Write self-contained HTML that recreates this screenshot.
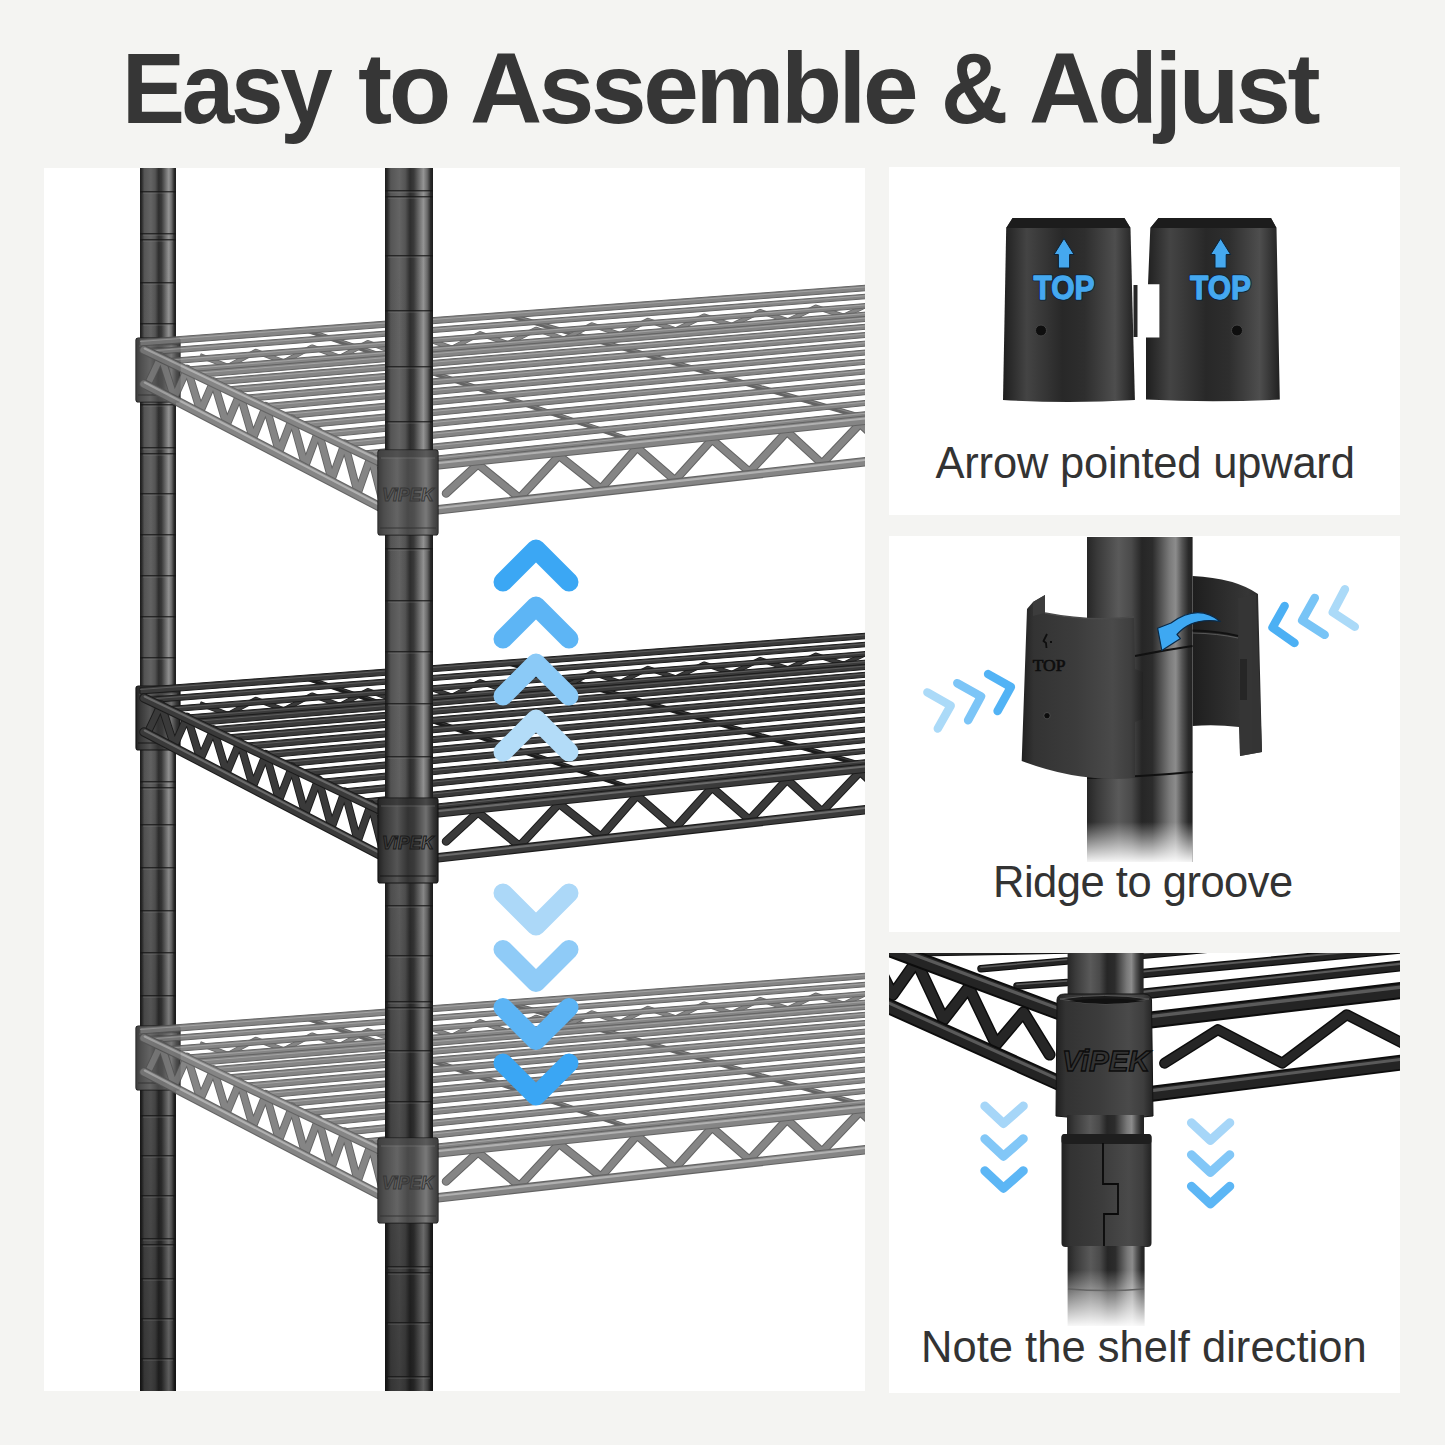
<!DOCTYPE html><html><head><meta charset="utf-8"><title>Easy to Assemble &amp; Adjust</title><style>
*{margin:0;padding:0;box-sizing:border-box}
html,body{width:1445px;height:1445px;overflow:hidden;background:#f4f4f2}
body{position:relative;font-family:"Liberation Sans",sans-serif}
.panel{position:absolute;background:#fff}
.title{position:absolute;left:0;top:0;width:1445px;white-space:nowrap;color:#363636;font-weight:bold}
.cap{position:absolute;white-space:nowrap;color:#333;font-size:43.5px}
</style></head><body>
<div class="panel" style="left:44px;top:168px;width:821px;height:1223px"></div>
<div class="panel" style="left:889px;top:167px;width:511px;height:348px"></div>
<div class="panel" style="left:889px;top:536px;width:511px;height:396px"></div>
<div class="panel" style="left:889px;top:953px;width:511px;height:440px"></div>
<svg width="1445" height="1445" viewBox="0 0 1445 1445" style="position:absolute;left:0;top:0"><defs>
<clipPath id="cpL"><rect x="44" y="168" width="821" height="1223"/></clipPath>
<linearGradient id="gPole" x1="0" x2="1" y1="0" y2="0">
<stop offset="0" stop-color="#1c1c1c"/><stop offset="0.05" stop-color="#2c2c2c"/><stop offset="0.12" stop-color="#555"/><stop offset="0.3" stop-color="#646464"/>
<stop offset="0.42" stop-color="#555"/><stop offset="0.52" stop-color="#2e2e2e"/><stop offset="0.6" stop-color="#3a3a3a"/><stop offset="0.8" stop-color="#959595"/>
<stop offset="0.88" stop-color="#6a6a6a"/><stop offset="0.95" stop-color="#2a2a2a"/><stop offset="1" stop-color="#1c1c1c"/>
</linearGradient>
<linearGradient id="gPoleShade" gradientUnits="userSpaceOnUse" x1="0" y1="168" x2="0" y2="1391">
<stop offset="0" stop-color="#000" stop-opacity="0"/><stop offset="0.5" stop-color="#000" stop-opacity="0.03"/><stop offset="1" stop-color="#000" stop-opacity="0.38"/>
</linearGradient>
<linearGradient id="gSlvP" x1="0" x2="1" y1="0" y2="0">
<stop offset="0" stop-color="#222"/><stop offset="0.1" stop-color="#383838"/><stop offset="0.32" stop-color="#555"/>
<stop offset="0.5" stop-color="#333"/><stop offset="0.6" stop-color="#3a3a3a"/><stop offset="0.8" stop-color="#707070"/><stop offset="0.92" stop-color="#383838"/><stop offset="1" stop-color="#202020"/>
</linearGradient>
<linearGradient id="gSlv" x1="0" x2="1" y1="0" y2="0">
<stop offset="0" stop-color="#202020"/><stop offset="0.25" stop-color="#3e3e3e"/><stop offset="0.5" stop-color="#2a2a2a"/><stop offset="0.8" stop-color="#454545"/><stop offset="1" stop-color="#1e1e1e"/>
</linearGradient>
<linearGradient id="gSlvG" x1="0" x2="1" y1="0" y2="0">
<stop offset="0" stop-color="#3c3c3c"/><stop offset="0.25" stop-color="#5a5a5a"/><stop offset="0.5" stop-color="#474747"/><stop offset="0.8" stop-color="#5e5e5e"/><stop offset="1" stop-color="#383838"/>
</linearGradient>
</defs><g clip-path="url(#cpL)"><rect x="140" y="160" width="36" height="1240" fill="url(#gPole)"/><rect x="140" y="160" width="36" height="1240" fill="url(#gPoleShade)"/><rect x="140" y="191" width="36" height="1.5" fill="#151515" opacity="0.75"/><rect x="143" y="192.5" width="30" height="1.2" fill="#888" opacity="0.3"/><rect x="140" y="233" width="36" height="1.5" fill="#151515" opacity="0.75"/><rect x="143" y="234.5" width="30" height="1.2" fill="#888" opacity="0.3"/><rect x="140" y="239" width="36" height="1.5" fill="#151515" opacity="0.75"/><rect x="143" y="240.5" width="30" height="1.2" fill="#888" opacity="0.3"/><rect x="140" y="282" width="36" height="1.5" fill="#151515" opacity="0.75"/><rect x="143" y="283.5" width="30" height="1.2" fill="#888" opacity="0.3"/><rect x="140" y="323" width="36" height="1.5" fill="#151515" opacity="0.75"/><rect x="143" y="324.5" width="30" height="1.2" fill="#888" opacity="0.3"/><rect x="140" y="404" width="36" height="1.5" fill="#151515" opacity="0.75"/><rect x="143" y="405.5" width="30" height="1.2" fill="#888" opacity="0.3"/><rect x="140" y="447" width="36" height="1.5" fill="#151515" opacity="0.75"/><rect x="143" y="448.5" width="30" height="1.2" fill="#888" opacity="0.3"/><rect x="140" y="453" width="36" height="1.5" fill="#151515" opacity="0.75"/><rect x="143" y="454.5" width="30" height="1.2" fill="#888" opacity="0.3"/><rect x="140" y="493" width="36" height="1.5" fill="#151515" opacity="0.75"/><rect x="143" y="494.5" width="30" height="1.2" fill="#888" opacity="0.3"/><rect x="140" y="534" width="36" height="1.5" fill="#151515" opacity="0.75"/><rect x="143" y="535.5" width="30" height="1.2" fill="#888" opacity="0.3"/><rect x="140" y="575" width="36" height="1.5" fill="#151515" opacity="0.75"/><rect x="143" y="576.5" width="30" height="1.2" fill="#888" opacity="0.3"/><rect x="140" y="616" width="36" height="1.5" fill="#151515" opacity="0.75"/><rect x="143" y="617.5" width="30" height="1.2" fill="#888" opacity="0.3"/><rect x="140" y="657" width="36" height="1.5" fill="#151515" opacity="0.75"/><rect x="143" y="658.5" width="30" height="1.2" fill="#888" opacity="0.3"/><rect x="140" y="781" width="36" height="1.5" fill="#151515" opacity="0.75"/><rect x="143" y="782.5" width="30" height="1.2" fill="#888" opacity="0.3"/><rect x="140" y="787" width="36" height="1.5" fill="#151515" opacity="0.75"/><rect x="143" y="788.5" width="30" height="1.2" fill="#888" opacity="0.3"/><rect x="140" y="824" width="36" height="1.5" fill="#151515" opacity="0.75"/><rect x="143" y="825.5" width="30" height="1.2" fill="#888" opacity="0.3"/><rect x="140" y="867" width="36" height="1.5" fill="#151515" opacity="0.75"/><rect x="143" y="868.5" width="30" height="1.2" fill="#888" opacity="0.3"/><rect x="140" y="910" width="36" height="1.5" fill="#151515" opacity="0.75"/><rect x="143" y="911.5" width="30" height="1.2" fill="#888" opacity="0.3"/><rect x="140" y="952" width="36" height="1.5" fill="#151515" opacity="0.75"/><rect x="143" y="953.5" width="30" height="1.2" fill="#888" opacity="0.3"/><rect x="140" y="995" width="36" height="1.5" fill="#151515" opacity="0.75"/><rect x="143" y="996.5" width="30" height="1.2" fill="#888" opacity="0.3"/><rect x="140" y="1115" width="36" height="1.5" fill="#151515" opacity="0.75"/><rect x="143" y="1116.5" width="30" height="1.2" fill="#888" opacity="0.3"/><rect x="140" y="1155" width="36" height="1.5" fill="#151515" opacity="0.75"/><rect x="143" y="1156.5" width="30" height="1.2" fill="#888" opacity="0.3"/><rect x="140" y="1195" width="36" height="1.5" fill="#151515" opacity="0.75"/><rect x="143" y="1196.5" width="30" height="1.2" fill="#888" opacity="0.3"/><rect x="140" y="1238" width="36" height="1.5" fill="#151515" opacity="0.75"/><rect x="143" y="1239.5" width="30" height="1.2" fill="#888" opacity="0.3"/><rect x="140" y="1244" width="36" height="1.5" fill="#151515" opacity="0.75"/><rect x="143" y="1245.5" width="30" height="1.2" fill="#888" opacity="0.3"/><rect x="140" y="1278" width="36" height="1.5" fill="#151515" opacity="0.75"/><rect x="143" y="1279.5" width="30" height="1.2" fill="#888" opacity="0.3"/><rect x="140" y="1318" width="36" height="1.5" fill="#151515" opacity="0.75"/><rect x="143" y="1319.5" width="30" height="1.2" fill="#888" opacity="0.3"/><rect x="140" y="1358" width="36" height="1.5" fill="#151515" opacity="0.75"/><rect x="143" y="1359.5" width="30" height="1.2" fill="#888" opacity="0.3"/><g><rect x="136" y="338" width="44" height="64" rx="2.5" fill="url(#gSlvP)" stroke="#161616" stroke-width="1.2"/><rect x="136.6" y="338.6" width="42.8" height="7" rx="2" fill="#2a2a2a" opacity="0.55"/><line x1="139" y1="346" x2="177" y2="346" stroke="#777" stroke-width="1" opacity="0.5"/><line x1="138" y1="395" x2="178" y2="395" stroke="#151515" stroke-width="1.4" opacity="0.6"/><rect x="136" y="338" width="44" height="64" rx="2.5" fill="#9a9a9a" opacity="0.22"/></g><g opacity="0.9"><line x1="306" y1="330" x2="643" y2="444" stroke="#545454" stroke-width="5" stroke-linecap="round"/><line x1="306" y1="330" x2="643" y2="444" stroke="#545454" stroke-width="3.9" stroke-linecap="round"/><line x1="306.3" y1="329.1" x2="643.3" y2="443.1" stroke="#787878" stroke-width="1.1" stroke-linecap="round"/><line x1="508" y1="315" x2="870" y2="419" stroke="#545454" stroke-width="5" stroke-linecap="round"/><line x1="508" y1="315" x2="870" y2="419" stroke="#545454" stroke-width="3.9" stroke-linecap="round"/><line x1="508.2" y1="314.1" x2="870.2" y2="418.1" stroke="#787878" stroke-width="1.1" stroke-linecap="round"/><polyline points="200,355.7 228,366.4 256,351.3 284,361.8 312,346.9 340,357.3 368,342.5 396,352.7 424,338 452,348.1 480,333.6 508,343.6 536,329.2 564,339 592,324.8 620,334.4 648,320.3 676,329.8 704,315.9 732,325.3 760,311.5 788,320.7 816,307.1 844,316.1 872,302.6 900,311.6" fill="none" stroke="#545454" stroke-width="5" stroke-linejoin="round"/><polyline points="200,355.7 228,366.4 256,351.3 284,361.8 312,346.9 340,357.3 368,342.5 396,352.7 424,338 452,348.1 480,333.6 508,343.6 536,329.2 564,339 592,324.8 620,334.4 648,320.3 676,329.8 704,315.9 732,325.3 760,311.5 788,320.7 816,307.1 844,316.1 872,302.6 900,311.6" fill="none" stroke="#787878" stroke-width="3.6" stroke-linejoin="round"/><polygon points="140,339.5 870,284.9 870,290.4 140,346" fill="#787878" stroke="#545454" stroke-width="1"/><line x1="140" y1="341.5" x2="870" y2="286.6" stroke="#a8a8a8" stroke-width="1" opacity="0.7"/><polygon points="148.4,349.3 870,293.9 870,298.4 148.4,354.8" fill="#787878" stroke="#545454" stroke-width="1"/><line x1="148.4" y1="351.1" x2="870" y2="295.4" stroke="#a8a8a8" stroke-width="1" opacity="0.7"/><polygon points="167.9,358.6 870,303.2 870,307.7 167.9,364.1" fill="#787878" stroke="#545454" stroke-width="1"/><line x1="167.9" y1="360.3" x2="870" y2="304.6" stroke="#a8a8a8" stroke-width="1" opacity="0.7"/><polygon points="185.8,367.1 870,311.8 870,316.3 185.8,372.6" fill="#787878" stroke="#545454" stroke-width="1"/><line x1="185.8" y1="368.9" x2="870" y2="313.2" stroke="#a8a8a8" stroke-width="1" opacity="0.7"/><polygon points="195.4,371.2 870,316.1 870,321.1 195.4,377.6" fill="#787878" stroke="#545454" stroke-width="1"/><line x1="195.4" y1="373.3" x2="870" y2="317.7" stroke="#a8a8a8" stroke-width="1" opacity="0.7"/><polygon points="211.5,378.9 870,323.9 870,328.9 211.5,385.3" fill="#787878" stroke="#545454" stroke-width="1"/><line x1="211.5" y1="380.9" x2="870" y2="325.5" stroke="#a8a8a8" stroke-width="1" opacity="0.7"/><polygon points="228.3,386.8 870,332.1 870,337.1 228.3,393.2" fill="#787878" stroke="#545454" stroke-width="1"/><line x1="228.3" y1="388.9" x2="870" y2="333.7" stroke="#a8a8a8" stroke-width="1" opacity="0.7"/><polygon points="245.8,395.1 870,340.7 870,345.7 245.8,401.5" fill="#787878" stroke="#545454" stroke-width="1"/><line x1="245.8" y1="397.2" x2="870" y2="342.3" stroke="#a8a8a8" stroke-width="1" opacity="0.7"/><polygon points="263.9,403.7 870,349.6 870,354.6 263.9,410.1" fill="#787878" stroke="#545454" stroke-width="1"/><line x1="263.9" y1="405.8" x2="870" y2="351.2" stroke="#a8a8a8" stroke-width="1" opacity="0.7"/><polygon points="282.6,412.6 870,358.9 870,363.9 282.6,419" fill="#787878" stroke="#545454" stroke-width="1"/><line x1="282.6" y1="414.6" x2="870" y2="360.5" stroke="#a8a8a8" stroke-width="1" opacity="0.7"/><polygon points="302,421.8 870,368.6 870,373.6 302,428.2" fill="#787878" stroke="#545454" stroke-width="1"/><line x1="302" y1="423.8" x2="870" y2="370.2" stroke="#a8a8a8" stroke-width="1" opacity="0.7"/><polygon points="321.9,431.2 870,378.7 870,383.7 321.9,437.6" fill="#787878" stroke="#545454" stroke-width="1"/><line x1="321.9" y1="433.3" x2="870" y2="380.3" stroke="#a8a8a8" stroke-width="1" opacity="0.7"/><polygon points="342.5,441 870,389.2 870,394.2 342.5,447.4" fill="#787878" stroke="#545454" stroke-width="1"/><line x1="342.5" y1="443" x2="870" y2="390.8" stroke="#a8a8a8" stroke-width="1" opacity="0.7"/><polygon points="363.5,451 870,400 870,405 363.5,457.4" fill="#787878" stroke="#545454" stroke-width="1"/><line x1="363.5" y1="453" x2="870" y2="401.6" stroke="#a8a8a8" stroke-width="1" opacity="0.7"/><polygon points="385.2,461.3 870,411.2 870,416.2 385.2,467.7" fill="#787878" stroke="#545454" stroke-width="1"/><line x1="385.2" y1="463.3" x2="870" y2="412.8" stroke="#a8a8a8" stroke-width="1" opacity="0.7"/><polyline points="148,384 161.1,356.2 174.2,397.7 187.3,368.7 200.4,411.3 213.6,381.1 226.7,425 239.8,393.6 252.9,438.7 266,406 279.1,452.3 292.2,418.4 305.3,466 318.4,430.9 331.6,479.7 344.7,443.3 357.8,493.3 370.9,455.8 384,507" fill="none" stroke="#545454" stroke-width="8" stroke-linejoin="round"/><polyline points="148,384 161.1,356.2 174.2,397.7 187.3,368.7 200.4,411.3 213.6,381.1 226.7,425 239.8,393.6 252.9,438.7 266,406 279.1,452.3 292.2,418.4 305.3,466 318.4,430.9 331.6,479.7 344.7,443.3 357.8,493.3 370.9,455.8 384,507" fill="none" stroke="#787878" stroke-width="6.2" stroke-linejoin="round"/><line x1="144" y1="350" x2="380" y2="462" stroke="#545454" stroke-width="9.5" stroke-linecap="round"/><line x1="144" y1="350" x2="380" y2="462" stroke="#787878" stroke-width="7.4" stroke-linecap="round"/><line x1="144.7" y1="348.5" x2="380.7" y2="460.5" stroke="#a8a8a8" stroke-width="2.1" stroke-linecap="round"/><line x1="144" y1="384" x2="380" y2="507" stroke="#545454" stroke-width="9.5" stroke-linecap="round"/><line x1="144" y1="384" x2="380" y2="507" stroke="#787878" stroke-width="7.4" stroke-linecap="round"/><line x1="144.8" y1="382.5" x2="380.8" y2="505.5" stroke="#a8a8a8" stroke-width="2.1" stroke-linecap="round"/><polyline points="446,493.5 478,464.2 519.5,498.1 559,455.6 601,488.8 637,447.4 675,480.4 712,439.4 749.5,471.9 787,431.5 822,463.7 860,423.7 895,455.3 933,416" fill="none" stroke="#545454" stroke-width="8.5" stroke-linejoin="round" stroke-linecap="round"/><polyline points="446,493.5 478,464.2 519.5,498.1 559,455.6 601,488.8 637,447.4 675,480.4 712,439.4 749.5,471.9 787,431.5 822,463.7 860,423.7 895,455.3 933,416" fill="none" stroke="#787878" stroke-width="6.5" stroke-linejoin="round" stroke-linecap="round"/><line x1="427" y1="466" x2="870" y2="419.7" stroke="#545454" stroke-width="9.5" stroke-linecap="round"/><line x1="427" y1="466" x2="870" y2="419.7" stroke="#787878" stroke-width="7.4" stroke-linecap="round"/><line x1="426.8" y1="464.3" x2="869.8" y2="418" stroke="#a8a8a8" stroke-width="2.1" stroke-linecap="round"/><line x1="427" y1="511" x2="870" y2="461.2" stroke="#545454" stroke-width="9.5" stroke-linecap="round"/><line x1="427" y1="511" x2="870" y2="461.2" stroke="#787878" stroke-width="7.4" stroke-linecap="round"/><line x1="426.8" y1="509.3" x2="869.8" y2="459.5" stroke="#a8a8a8" stroke-width="2.1" stroke-linecap="round"/></g><g><rect x="136" y="686" width="44" height="64" rx="2.5" fill="url(#gSlvP)" stroke="#161616" stroke-width="1.2"/><rect x="136.6" y="686.6" width="42.8" height="7" rx="2" fill="#2a2a2a" opacity="0.55"/><line x1="139" y1="694" x2="177" y2="694" stroke="#777" stroke-width="1" opacity="0.5"/><line x1="138" y1="743" x2="178" y2="743" stroke="#151515" stroke-width="1.4" opacity="0.6"/></g><g><line x1="306" y1="678" x2="643" y2="792" stroke="#1c1c1c" stroke-width="5" stroke-linecap="round"/><line x1="306" y1="678" x2="643" y2="792" stroke="#1c1c1c" stroke-width="3.9" stroke-linecap="round"/><line x1="306.3" y1="677.1" x2="643.3" y2="791.1" stroke="#3a3a3a" stroke-width="1.1" stroke-linecap="round"/><line x1="508" y1="663" x2="870" y2="767" stroke="#1c1c1c" stroke-width="5" stroke-linecap="round"/><line x1="508" y1="663" x2="870" y2="767" stroke="#1c1c1c" stroke-width="3.9" stroke-linecap="round"/><line x1="508.2" y1="662.1" x2="870.2" y2="766.1" stroke="#3a3a3a" stroke-width="1.1" stroke-linecap="round"/><polyline points="200,703.7 228,714.4 256,699.3 284,709.8 312,694.9 340,705.3 368,690.5 396,700.7 424,686 452,696.1 480,681.6 508,691.6 536,677.2 564,687 592,672.8 620,682.4 648,668.3 676,677.8 704,663.9 732,673.3 760,659.5 788,668.7 816,655.1 844,664.1 872,650.6 900,659.6" fill="none" stroke="#1c1c1c" stroke-width="5" stroke-linejoin="round"/><polyline points="200,703.7 228,714.4 256,699.3 284,709.8 312,694.9 340,705.3 368,690.5 396,700.7 424,686 452,696.1 480,681.6 508,691.6 536,677.2 564,687 592,672.8 620,682.4 648,668.3 676,677.8 704,663.9 732,673.3 760,659.5 788,668.7 816,655.1 844,664.1 872,650.6 900,659.6" fill="none" stroke="#3a3a3a" stroke-width="3.6" stroke-linejoin="round"/><polygon points="140,687.5 870,632.9 870,638.4 140,694" fill="#3a3a3a" stroke="#1c1c1c" stroke-width="1"/><line x1="140" y1="689.5" x2="870" y2="634.6" stroke="#6a6a6a" stroke-width="1" opacity="0.7"/><polygon points="148.4,697.3 870,641.9 870,646.4 148.4,702.8" fill="#3a3a3a" stroke="#1c1c1c" stroke-width="1"/><line x1="148.4" y1="699.1" x2="870" y2="643.4" stroke="#6a6a6a" stroke-width="1" opacity="0.7"/><polygon points="167.9,706.6 870,651.2 870,655.7 167.9,712.1" fill="#3a3a3a" stroke="#1c1c1c" stroke-width="1"/><line x1="167.9" y1="708.3" x2="870" y2="652.6" stroke="#6a6a6a" stroke-width="1" opacity="0.7"/><polygon points="185.8,715.1 870,659.8 870,664.3 185.8,720.6" fill="#3a3a3a" stroke="#1c1c1c" stroke-width="1"/><line x1="185.8" y1="716.9" x2="870" y2="661.2" stroke="#6a6a6a" stroke-width="1" opacity="0.7"/><polygon points="195.4,719.2 870,664.1 870,669.1 195.4,725.6" fill="#3a3a3a" stroke="#1c1c1c" stroke-width="1"/><line x1="195.4" y1="721.3" x2="870" y2="665.7" stroke="#6a6a6a" stroke-width="1" opacity="0.7"/><polygon points="211.5,726.9 870,671.9 870,676.9 211.5,733.3" fill="#3a3a3a" stroke="#1c1c1c" stroke-width="1"/><line x1="211.5" y1="728.9" x2="870" y2="673.5" stroke="#6a6a6a" stroke-width="1" opacity="0.7"/><polygon points="228.3,734.8 870,680.1 870,685.1 228.3,741.2" fill="#3a3a3a" stroke="#1c1c1c" stroke-width="1"/><line x1="228.3" y1="736.9" x2="870" y2="681.7" stroke="#6a6a6a" stroke-width="1" opacity="0.7"/><polygon points="245.8,743.1 870,688.7 870,693.7 245.8,749.5" fill="#3a3a3a" stroke="#1c1c1c" stroke-width="1"/><line x1="245.8" y1="745.2" x2="870" y2="690.3" stroke="#6a6a6a" stroke-width="1" opacity="0.7"/><polygon points="263.9,751.7 870,697.6 870,702.6 263.9,758.1" fill="#3a3a3a" stroke="#1c1c1c" stroke-width="1"/><line x1="263.9" y1="753.8" x2="870" y2="699.2" stroke="#6a6a6a" stroke-width="1" opacity="0.7"/><polygon points="282.6,760.6 870,706.9 870,711.9 282.6,767" fill="#3a3a3a" stroke="#1c1c1c" stroke-width="1"/><line x1="282.6" y1="762.6" x2="870" y2="708.5" stroke="#6a6a6a" stroke-width="1" opacity="0.7"/><polygon points="302,769.8 870,716.6 870,721.6 302,776.2" fill="#3a3a3a" stroke="#1c1c1c" stroke-width="1"/><line x1="302" y1="771.8" x2="870" y2="718.2" stroke="#6a6a6a" stroke-width="1" opacity="0.7"/><polygon points="321.9,779.2 870,726.7 870,731.7 321.9,785.6" fill="#3a3a3a" stroke="#1c1c1c" stroke-width="1"/><line x1="321.9" y1="781.3" x2="870" y2="728.3" stroke="#6a6a6a" stroke-width="1" opacity="0.7"/><polygon points="342.5,789 870,737.2 870,742.2 342.5,795.4" fill="#3a3a3a" stroke="#1c1c1c" stroke-width="1"/><line x1="342.5" y1="791" x2="870" y2="738.8" stroke="#6a6a6a" stroke-width="1" opacity="0.7"/><polygon points="363.5,799 870,748 870,753 363.5,805.4" fill="#3a3a3a" stroke="#1c1c1c" stroke-width="1"/><line x1="363.5" y1="801" x2="870" y2="749.6" stroke="#6a6a6a" stroke-width="1" opacity="0.7"/><polygon points="385.2,809.3 870,759.2 870,764.2 385.2,815.7" fill="#3a3a3a" stroke="#1c1c1c" stroke-width="1"/><line x1="385.2" y1="811.3" x2="870" y2="760.8" stroke="#6a6a6a" stroke-width="1" opacity="0.7"/><polyline points="148,732 161.1,704.2 174.2,745.7 187.3,716.7 200.4,759.3 213.6,729.1 226.7,773 239.8,741.6 252.9,786.7 266,754 279.1,800.3 292.2,766.4 305.3,814 318.4,778.9 331.6,827.7 344.7,791.3 357.8,841.3 370.9,803.8 384,855" fill="none" stroke="#1c1c1c" stroke-width="8" stroke-linejoin="round"/><polyline points="148,732 161.1,704.2 174.2,745.7 187.3,716.7 200.4,759.3 213.6,729.1 226.7,773 239.8,741.6 252.9,786.7 266,754 279.1,800.3 292.2,766.4 305.3,814 318.4,778.9 331.6,827.7 344.7,791.3 357.8,841.3 370.9,803.8 384,855" fill="none" stroke="#3a3a3a" stroke-width="6.2" stroke-linejoin="round"/><line x1="144" y1="698" x2="380" y2="810" stroke="#1c1c1c" stroke-width="9.5" stroke-linecap="round"/><line x1="144" y1="698" x2="380" y2="810" stroke="#3a3a3a" stroke-width="7.4" stroke-linecap="round"/><line x1="144.7" y1="696.5" x2="380.7" y2="808.5" stroke="#6a6a6a" stroke-width="2.1" stroke-linecap="round"/><line x1="144" y1="732" x2="380" y2="855" stroke="#1c1c1c" stroke-width="9.5" stroke-linecap="round"/><line x1="144" y1="732" x2="380" y2="855" stroke="#3a3a3a" stroke-width="7.4" stroke-linecap="round"/><line x1="144.8" y1="730.5" x2="380.8" y2="853.5" stroke="#6a6a6a" stroke-width="2.1" stroke-linecap="round"/><polyline points="446,841.5 478,812.2 519.5,846.1 559,803.6 601,836.8 637,795.4 675,828.4 712,787.4 749.5,819.9 787,779.5 822,811.7 860,771.7 895,803.3 933,764" fill="none" stroke="#1c1c1c" stroke-width="8.5" stroke-linejoin="round" stroke-linecap="round"/><polyline points="446,841.5 478,812.2 519.5,846.1 559,803.6 601,836.8 637,795.4 675,828.4 712,787.4 749.5,819.9 787,779.5 822,811.7 860,771.7 895,803.3 933,764" fill="none" stroke="#3a3a3a" stroke-width="6.5" stroke-linejoin="round" stroke-linecap="round"/><line x1="427" y1="814" x2="870" y2="767.7" stroke="#1c1c1c" stroke-width="9.5" stroke-linecap="round"/><line x1="427" y1="814" x2="870" y2="767.7" stroke="#3a3a3a" stroke-width="7.4" stroke-linecap="round"/><line x1="426.8" y1="812.3" x2="869.8" y2="766" stroke="#6a6a6a" stroke-width="2.1" stroke-linecap="round"/><line x1="427" y1="859" x2="870" y2="809.2" stroke="#1c1c1c" stroke-width="9.5" stroke-linecap="round"/><line x1="427" y1="859" x2="870" y2="809.2" stroke="#3a3a3a" stroke-width="7.4" stroke-linecap="round"/><line x1="426.8" y1="857.3" x2="869.8" y2="807.5" stroke="#6a6a6a" stroke-width="2.1" stroke-linecap="round"/></g><g><rect x="136" y="1026" width="44" height="64" rx="2.5" fill="url(#gSlvP)" stroke="#161616" stroke-width="1.2"/><rect x="136.6" y="1026.6" width="42.8" height="7" rx="2" fill="#2a2a2a" opacity="0.55"/><line x1="139" y1="1034" x2="177" y2="1034" stroke="#777" stroke-width="1" opacity="0.5"/><line x1="138" y1="1083" x2="178" y2="1083" stroke="#151515" stroke-width="1.4" opacity="0.6"/><rect x="136" y="1026" width="44" height="64" rx="2.5" fill="#9a9a9a" opacity="0.22"/></g><g opacity="0.9"><line x1="306" y1="1018" x2="643" y2="1132" stroke="#545454" stroke-width="5" stroke-linecap="round"/><line x1="306" y1="1018" x2="643" y2="1132" stroke="#545454" stroke-width="3.9" stroke-linecap="round"/><line x1="306.3" y1="1017.1" x2="643.3" y2="1131.1" stroke="#787878" stroke-width="1.1" stroke-linecap="round"/><line x1="508" y1="1003" x2="870" y2="1107" stroke="#545454" stroke-width="5" stroke-linecap="round"/><line x1="508" y1="1003" x2="870" y2="1107" stroke="#545454" stroke-width="3.9" stroke-linecap="round"/><line x1="508.2" y1="1002.1" x2="870.2" y2="1106.1" stroke="#787878" stroke-width="1.1" stroke-linecap="round"/><polyline points="200,1043.7 228,1054.4 256,1039.3 284,1049.8 312,1034.9 340,1045.3 368,1030.5 396,1040.7 424,1026 452,1036.1 480,1021.6 508,1031.6 536,1017.2 564,1027 592,1012.8 620,1022.4 648,1008.3 676,1017.8 704,1003.9 732,1013.3 760,999.5 788,1008.7 816,995.1 844,1004.1 872,990.6 900,999.6" fill="none" stroke="#545454" stroke-width="5" stroke-linejoin="round"/><polyline points="200,1043.7 228,1054.4 256,1039.3 284,1049.8 312,1034.9 340,1045.3 368,1030.5 396,1040.7 424,1026 452,1036.1 480,1021.6 508,1031.6 536,1017.2 564,1027 592,1012.8 620,1022.4 648,1008.3 676,1017.8 704,1003.9 732,1013.3 760,999.5 788,1008.7 816,995.1 844,1004.1 872,990.6 900,999.6" fill="none" stroke="#787878" stroke-width="3.6" stroke-linejoin="round"/><polygon points="140,1027.5 870,972.9 870,978.4 140,1034" fill="#787878" stroke="#545454" stroke-width="1"/><line x1="140" y1="1029.5" x2="870" y2="974.6" stroke="#a8a8a8" stroke-width="1" opacity="0.7"/><polygon points="148.4,1037.3 870,981.9 870,986.4 148.4,1042.8" fill="#787878" stroke="#545454" stroke-width="1"/><line x1="148.4" y1="1039.1" x2="870" y2="983.4" stroke="#a8a8a8" stroke-width="1" opacity="0.7"/><polygon points="167.9,1046.6 870,991.2 870,995.7 167.9,1052.1" fill="#787878" stroke="#545454" stroke-width="1"/><line x1="167.9" y1="1048.3" x2="870" y2="992.6" stroke="#a8a8a8" stroke-width="1" opacity="0.7"/><polygon points="185.8,1055.1 870,999.8 870,1004.3 185.8,1060.6" fill="#787878" stroke="#545454" stroke-width="1"/><line x1="185.8" y1="1056.9" x2="870" y2="1001.2" stroke="#a8a8a8" stroke-width="1" opacity="0.7"/><polygon points="195.4,1059.2 870,1004.1 870,1009.1 195.4,1065.6" fill="#787878" stroke="#545454" stroke-width="1"/><line x1="195.4" y1="1061.3" x2="870" y2="1005.7" stroke="#a8a8a8" stroke-width="1" opacity="0.7"/><polygon points="211.5,1066.9 870,1011.9 870,1016.9 211.5,1073.3" fill="#787878" stroke="#545454" stroke-width="1"/><line x1="211.5" y1="1068.9" x2="870" y2="1013.5" stroke="#a8a8a8" stroke-width="1" opacity="0.7"/><polygon points="228.3,1074.8 870,1020.1 870,1025.1 228.3,1081.2" fill="#787878" stroke="#545454" stroke-width="1"/><line x1="228.3" y1="1076.9" x2="870" y2="1021.7" stroke="#a8a8a8" stroke-width="1" opacity="0.7"/><polygon points="245.8,1083.1 870,1028.7 870,1033.7 245.8,1089.5" fill="#787878" stroke="#545454" stroke-width="1"/><line x1="245.8" y1="1085.2" x2="870" y2="1030.3" stroke="#a8a8a8" stroke-width="1" opacity="0.7"/><polygon points="263.9,1091.7 870,1037.6 870,1042.6 263.9,1098.1" fill="#787878" stroke="#545454" stroke-width="1"/><line x1="263.9" y1="1093.8" x2="870" y2="1039.2" stroke="#a8a8a8" stroke-width="1" opacity="0.7"/><polygon points="282.6,1100.6 870,1046.9 870,1051.9 282.6,1107" fill="#787878" stroke="#545454" stroke-width="1"/><line x1="282.6" y1="1102.6" x2="870" y2="1048.5" stroke="#a8a8a8" stroke-width="1" opacity="0.7"/><polygon points="302,1109.8 870,1056.6 870,1061.6 302,1116.2" fill="#787878" stroke="#545454" stroke-width="1"/><line x1="302" y1="1111.8" x2="870" y2="1058.2" stroke="#a8a8a8" stroke-width="1" opacity="0.7"/><polygon points="321.9,1119.2 870,1066.7 870,1071.7 321.9,1125.6" fill="#787878" stroke="#545454" stroke-width="1"/><line x1="321.9" y1="1121.3" x2="870" y2="1068.3" stroke="#a8a8a8" stroke-width="1" opacity="0.7"/><polygon points="342.5,1129 870,1077.2 870,1082.2 342.5,1135.4" fill="#787878" stroke="#545454" stroke-width="1"/><line x1="342.5" y1="1131" x2="870" y2="1078.8" stroke="#a8a8a8" stroke-width="1" opacity="0.7"/><polygon points="363.5,1139 870,1088 870,1093 363.5,1145.4" fill="#787878" stroke="#545454" stroke-width="1"/><line x1="363.5" y1="1141" x2="870" y2="1089.6" stroke="#a8a8a8" stroke-width="1" opacity="0.7"/><polygon points="385.2,1149.3 870,1099.2 870,1104.2 385.2,1155.7" fill="#787878" stroke="#545454" stroke-width="1"/><line x1="385.2" y1="1151.3" x2="870" y2="1100.8" stroke="#a8a8a8" stroke-width="1" opacity="0.7"/><polyline points="148,1072 161.1,1044.2 174.2,1085.7 187.3,1056.7 200.4,1099.3 213.6,1069.1 226.7,1113 239.8,1081.6 252.9,1126.7 266,1094 279.1,1140.3 292.2,1106.4 305.3,1154 318.4,1118.9 331.6,1167.7 344.7,1131.3 357.8,1181.3 370.9,1143.8 384,1195" fill="none" stroke="#545454" stroke-width="8" stroke-linejoin="round"/><polyline points="148,1072 161.1,1044.2 174.2,1085.7 187.3,1056.7 200.4,1099.3 213.6,1069.1 226.7,1113 239.8,1081.6 252.9,1126.7 266,1094 279.1,1140.3 292.2,1106.4 305.3,1154 318.4,1118.9 331.6,1167.7 344.7,1131.3 357.8,1181.3 370.9,1143.8 384,1195" fill="none" stroke="#787878" stroke-width="6.2" stroke-linejoin="round"/><line x1="144" y1="1038" x2="380" y2="1150" stroke="#545454" stroke-width="9.5" stroke-linecap="round"/><line x1="144" y1="1038" x2="380" y2="1150" stroke="#787878" stroke-width="7.4" stroke-linecap="round"/><line x1="144.7" y1="1036.5" x2="380.7" y2="1148.5" stroke="#a8a8a8" stroke-width="2.1" stroke-linecap="round"/><line x1="144" y1="1072" x2="380" y2="1195" stroke="#545454" stroke-width="9.5" stroke-linecap="round"/><line x1="144" y1="1072" x2="380" y2="1195" stroke="#787878" stroke-width="7.4" stroke-linecap="round"/><line x1="144.8" y1="1070.5" x2="380.8" y2="1193.5" stroke="#a8a8a8" stroke-width="2.1" stroke-linecap="round"/><polyline points="446,1181.5 478,1152.2 519.5,1186.1 559,1143.6 601,1176.8 637,1135.4 675,1168.4 712,1127.4 749.5,1159.9 787,1119.5 822,1151.7 860,1111.7 895,1143.3 933,1104" fill="none" stroke="#545454" stroke-width="8.5" stroke-linejoin="round" stroke-linecap="round"/><polyline points="446,1181.5 478,1152.2 519.5,1186.1 559,1143.6 601,1176.8 637,1135.4 675,1168.4 712,1127.4 749.5,1159.9 787,1119.5 822,1151.7 860,1111.7 895,1143.3 933,1104" fill="none" stroke="#787878" stroke-width="6.5" stroke-linejoin="round" stroke-linecap="round"/><line x1="427" y1="1154" x2="870" y2="1107.7" stroke="#545454" stroke-width="9.5" stroke-linecap="round"/><line x1="427" y1="1154" x2="870" y2="1107.7" stroke="#787878" stroke-width="7.4" stroke-linecap="round"/><line x1="426.8" y1="1152.3" x2="869.8" y2="1106" stroke="#a8a8a8" stroke-width="2.1" stroke-linecap="round"/><line x1="427" y1="1199" x2="870" y2="1149.2" stroke="#545454" stroke-width="9.5" stroke-linecap="round"/><line x1="427" y1="1199" x2="870" y2="1149.2" stroke="#787878" stroke-width="7.4" stroke-linecap="round"/><line x1="426.8" y1="1197.3" x2="869.8" y2="1147.5" stroke="#a8a8a8" stroke-width="2.1" stroke-linecap="round"/></g><rect x="385" y="160" width="48" height="1240" fill="url(#gPole)"/><rect x="385" y="160" width="48" height="1240" fill="url(#gPoleShade)"/><rect x="385" y="190" width="48" height="1.5" fill="#151515" opacity="0.75"/><rect x="388" y="191.5" width="42" height="1.2" fill="#888" opacity="0.3"/><rect x="385" y="196" width="48" height="1.5" fill="#151515" opacity="0.75"/><rect x="388" y="197.5" width="42" height="1.2" fill="#888" opacity="0.3"/><rect x="385" y="255" width="48" height="1.5" fill="#151515" opacity="0.75"/><rect x="388" y="256.5" width="42" height="1.2" fill="#888" opacity="0.3"/><rect x="385" y="310" width="48" height="1.5" fill="#151515" opacity="0.75"/><rect x="388" y="311.5" width="42" height="1.2" fill="#888" opacity="0.3"/><rect x="385" y="366" width="48" height="1.5" fill="#151515" opacity="0.75"/><rect x="388" y="367.5" width="42" height="1.2" fill="#888" opacity="0.3"/><rect x="385" y="421" width="48" height="1.5" fill="#151515" opacity="0.75"/><rect x="388" y="422.5" width="42" height="1.2" fill="#888" opacity="0.3"/><rect x="385" y="548" width="48" height="1.5" fill="#151515" opacity="0.75"/><rect x="388" y="549.5" width="42" height="1.2" fill="#888" opacity="0.3"/><rect x="385" y="600" width="48" height="1.5" fill="#151515" opacity="0.75"/><rect x="388" y="601.5" width="42" height="1.2" fill="#888" opacity="0.3"/><rect x="385" y="651" width="48" height="1.5" fill="#151515" opacity="0.75"/><rect x="388" y="652.5" width="42" height="1.2" fill="#888" opacity="0.3"/><rect x="385" y="703" width="48" height="1.5" fill="#151515" opacity="0.75"/><rect x="388" y="704.5" width="42" height="1.2" fill="#888" opacity="0.3"/><rect x="385" y="756" width="48" height="1.5" fill="#151515" opacity="0.75"/><rect x="388" y="757.5" width="42" height="1.2" fill="#888" opacity="0.3"/><rect x="385" y="905" width="48" height="1.5" fill="#151515" opacity="0.75"/><rect x="388" y="906.5" width="42" height="1.2" fill="#888" opacity="0.3"/><rect x="385" y="955" width="48" height="1.5" fill="#151515" opacity="0.75"/><rect x="388" y="956.5" width="42" height="1.2" fill="#888" opacity="0.3"/><rect x="385" y="1001" width="48" height="1.5" fill="#151515" opacity="0.75"/><rect x="388" y="1002.5" width="42" height="1.2" fill="#888" opacity="0.3"/><rect x="385" y="1007" width="48" height="1.5" fill="#151515" opacity="0.75"/><rect x="388" y="1008.5" width="42" height="1.2" fill="#888" opacity="0.3"/><rect x="385" y="1050" width="48" height="1.5" fill="#151515" opacity="0.75"/><rect x="388" y="1051.5" width="42" height="1.2" fill="#888" opacity="0.3"/><rect x="385" y="1101" width="48" height="1.5" fill="#151515" opacity="0.75"/><rect x="388" y="1102.5" width="42" height="1.2" fill="#888" opacity="0.3"/><rect x="385" y="1266" width="48" height="1.5" fill="#151515" opacity="0.75"/><rect x="388" y="1267.5" width="42" height="1.2" fill="#888" opacity="0.3"/><rect x="385" y="1272" width="48" height="1.5" fill="#151515" opacity="0.75"/><rect x="388" y="1273.5" width="42" height="1.2" fill="#888" opacity="0.3"/><rect x="385" y="1322" width="48" height="1.5" fill="#151515" opacity="0.75"/><rect x="388" y="1323.5" width="42" height="1.2" fill="#888" opacity="0.3"/><rect x="385" y="1376" width="48" height="1.5" fill="#151515" opacity="0.75"/><rect x="388" y="1377.5" width="42" height="1.2" fill="#888" opacity="0.3"/><g><rect x="378" y="450" width="60" height="85" rx="2.5" fill="url(#gSlvP)" stroke="#161616" stroke-width="1.2"/><rect x="378.6" y="450.6" width="58.8" height="7" rx="2" fill="#2a2a2a" opacity="0.55"/><line x1="381" y1="458" x2="435" y2="458" stroke="#777" stroke-width="1" opacity="0.5"/><line x1="380" y1="528" x2="436" y2="528" stroke="#151515" stroke-width="1.4" opacity="0.6"/><text x="408" y="501.2" text-anchor="middle" font-family="Liberation Sans" font-weight="bold" font-style="italic" font-size="19" fill="none" stroke="#1a1a1a" stroke-width="1.1" textLength="52" lengthAdjust="spacingAndGlyphs">ViPEK</text><rect x="378" y="450" width="60" height="85" rx="2.5" fill="#9a9a9a" opacity="0.22"/></g><g><rect x="378" y="798" width="60" height="85" rx="2.5" fill="url(#gSlvP)" stroke="#161616" stroke-width="1.2"/><rect x="378.6" y="798.6" width="58.8" height="7" rx="2" fill="#2a2a2a" opacity="0.55"/><line x1="381" y1="806" x2="435" y2="806" stroke="#777" stroke-width="1" opacity="0.5"/><line x1="380" y1="876" x2="436" y2="876" stroke="#151515" stroke-width="1.4" opacity="0.6"/><text x="408" y="849.2" text-anchor="middle" font-family="Liberation Sans" font-weight="bold" font-style="italic" font-size="19" fill="none" stroke="#1a1a1a" stroke-width="1.1" textLength="52" lengthAdjust="spacingAndGlyphs">ViPEK</text></g><g><rect x="378" y="1138" width="60" height="85" rx="2.5" fill="url(#gSlvP)" stroke="#161616" stroke-width="1.2"/><rect x="378.6" y="1138.6" width="58.8" height="7" rx="2" fill="#2a2a2a" opacity="0.55"/><line x1="381" y1="1146" x2="435" y2="1146" stroke="#777" stroke-width="1" opacity="0.5"/><line x1="380" y1="1216" x2="436" y2="1216" stroke="#151515" stroke-width="1.4" opacity="0.6"/><text x="408" y="1189.2" text-anchor="middle" font-family="Liberation Sans" font-weight="bold" font-style="italic" font-size="19" fill="none" stroke="#1a1a1a" stroke-width="1.1" textLength="52" lengthAdjust="spacingAndGlyphs">ViPEK</text><rect x="378" y="1138" width="60" height="85" rx="2.5" fill="#9a9a9a" opacity="0.22"/></g><polyline points="503,582 536,549 569,582" fill="none" stroke="#3ba7f4" stroke-width="19" stroke-linecap="round" stroke-linejoin="round"/><polyline points="503,639 536,606 569,639" fill="none" stroke="#5db5f5" stroke-width="19" stroke-linecap="round" stroke-linejoin="round"/><polyline points="503,696 536,663 569,696" fill="none" stroke="#8bcaf7" stroke-width="19" stroke-linecap="round" stroke-linejoin="round"/><polyline points="503,752 536,719 569,752" fill="none" stroke="#b3dcf8" stroke-width="19" stroke-linecap="round" stroke-linejoin="round"/><polyline points="503,893 536,926 569,893" fill="none" stroke="#acd8f8" stroke-width="19" stroke-linecap="round" stroke-linejoin="round"/><polyline points="503,949.5 536,982.5 569,949.5" fill="none" stroke="#8fcbf7" stroke-width="19" stroke-linecap="round" stroke-linejoin="round"/><polyline points="503,1007.5 536,1040.5 569,1007.5" fill="none" stroke="#5bb4f5" stroke-width="19" stroke-linecap="round" stroke-linejoin="round"/><polyline points="503,1063 536,1096 569,1063" fill="none" stroke="#3aa6f4" stroke-width="19" stroke-linecap="round" stroke-linejoin="round"/></g></svg>
<svg width="1445" height="1445" viewBox="0 0 1445 1445" style="position:absolute;left:0;top:0"><defs>
<clipPath id="cpR1"><rect x="889" y="167" width="511" height="348"/></clipPath>
<clipPath id="cpR2"><rect x="889" y="536" width="511" height="396"/></clipPath>
<clipPath id="cpR3"><rect x="889" y="953" width="511" height="440"/></clipPath>
<linearGradient id="gCap" x1="0" x2="1" y1="0" y2="0">
<stop offset="0" stop-color="#1e1e1e"/><stop offset="0.18" stop-color="#444"/><stop offset="0.45" stop-color="#282828"/>
<stop offset="0.62" stop-color="#2e2e2e"/><stop offset="0.85" stop-color="#4e4e4e"/><stop offset="1" stop-color="#202020"/>
</linearGradient>
<linearGradient id="gPoleR" x1="0" x2="1" y1="0" y2="0">
<stop offset="0" stop-color="#262626"/><stop offset="0.1" stop-color="#3a3a3a"/><stop offset="0.3" stop-color="#5a5a5a"/><stop offset="0.42" stop-color="#4a4a4a"/>
<stop offset="0.52" stop-color="#262626"/><stop offset="0.62" stop-color="#2c2c2c"/><stop offset="0.78" stop-color="#7a7a7a"/><stop offset="0.84" stop-color="#8c8c8c"/><stop offset="0.9" stop-color="#555"/><stop offset="0.96" stop-color="#2a2a2a"/><stop offset="1" stop-color="#222"/>
</linearGradient>
<linearGradient id="gFade" x1="0" x2="0" y1="0" y2="1">
<stop offset="0" stop-color="#fff" stop-opacity="0"/><stop offset="1" stop-color="#fff" stop-opacity="1"/>
</linearGradient>
<linearGradient id="gSlv2" x1="0" x2="1" y1="0" y2="0">
<stop offset="0" stop-color="#202020"/><stop offset="0.1" stop-color="#333"/><stop offset="0.45" stop-color="#3c3c3c"/>
<stop offset="0.75" stop-color="#4a4a4a"/><stop offset="0.9" stop-color="#3e3e3e"/><stop offset="1" stop-color="#222"/>
</linearGradient>
<linearGradient id="gSlvBack" x1="0" x2="1" y1="0" y2="0">
<stop offset="0" stop-color="#1e1e1e"/><stop offset="0.5" stop-color="#2e2e2e"/><stop offset="0.8" stop-color="#363636"/><stop offset="1" stop-color="#262626"/>
</linearGradient>
</defs><g clip-path="url(#cpR1)"><path d="M1012.6,218 L1124.4,218 L1130.5,228 L1134.9,400 Q1069,404 1003,400 L1006.2,228 Z" fill="url(#gCap)"/><path d="M1012.6,218 L1124.4,218 L1130.5,228 L1006.2,228 Z" fill="#1c1c1c"/><rect x="1133.5" y="285" width="4" height="52" fill="#262626"/><path d="M1064.0,238.5 L1074.0,254.5 L1069.6,254.5 L1069.6,268.0 L1058.4,268.0 L1058.4,254.5 L1054.0,254.5 Z" fill="#45a8ef" stroke="#0d2236" stroke-width="1"/><text x="1064.0" y="298.5" text-anchor="middle" font-family="Liberation Sans" font-weight="bold" font-size="34" fill="#45a8ef" stroke="#0d2236" stroke-width="3.2" stroke-linejoin="round" textLength="61" lengthAdjust="spacingAndGlyphs">TOP</text><text x="1064.0" y="298.5" text-anchor="middle" font-family="Liberation Sans" font-weight="bold" font-size="34" fill="#45a8ef" stroke="#45a8ef" stroke-width="1.3" stroke-linejoin="round" textLength="61" lengthAdjust="spacingAndGlyphs">TOP</text><circle cx="1041" cy="330.5" r="5.5" fill="#0e0e0e" stroke="#444" stroke-width="1"/><path d="M1158.5,218 L1271,218 L1276.5,228 L1279.8,399.6 Q1213,403 1146,399.6 L1146,337.4 L1159.4,337.4 L1159.4,284.3 L1148,284.3 L1150.3,228 Z" fill="url(#gCap)"/><path d="M1158.5,218 L1271,218 L1276.5,228 L1150.3,228 Z" fill="#1c1c1c"/><path d="M1220.6,238.5 L1230.6,254.5 L1226.2,254.5 L1226.2,268.0 L1215.0,268.0 L1215.0,254.5 L1210.6,254.5 Z" fill="#45a8ef" stroke="#0d2236" stroke-width="1"/><text x="1220.6" y="298.5" text-anchor="middle" font-family="Liberation Sans" font-weight="bold" font-size="34" fill="#45a8ef" stroke="#0d2236" stroke-width="3.2" stroke-linejoin="round" textLength="61" lengthAdjust="spacingAndGlyphs">TOP</text><text x="1220.6" y="298.5" text-anchor="middle" font-family="Liberation Sans" font-weight="bold" font-size="34" fill="#45a8ef" stroke="#45a8ef" stroke-width="1.3" stroke-linejoin="round" textLength="61" lengthAdjust="spacingAndGlyphs">TOP</text><circle cx="1237" cy="330.5" r="5.5" fill="#0e0e0e" stroke="#444" stroke-width="1"/></g><g clip-path="url(#cpR2)"><path d="M1192.6,576 Q1235,578 1258,594 L1262,752 L1240,756 L1239,727 Q1215,724 1192.6,726 Z" fill="url(#gSlvBack)"/><path d="M1238,598 L1256,594 L1262,752 L1240,756 Z" fill="#353535" opacity="0.9"/><path d="M1240,659 L1247,659 L1247,700 L1240,700 Z" fill="#262626"/><rect x="1087" y="537" width="105.6" height="325" fill="url(#gPoleR)"/><rect x="1087" y="822" width="105.6" height="42" fill="url(#gFade)"/><path d="M1135,656 Q1165,650 1192.6,646" stroke="#111" stroke-width="2" fill="none"/><path d="M1192.6,630.5 Q1218,631 1238,636" stroke="#111" stroke-width="2" fill="none"/><path d="M1192.6,633 Q1218,633.5 1238,638" stroke="#666" stroke-width="0.8" fill="none"/><path d="M1087,778 Q1140,777 1192.6,772" stroke="#111" stroke-width="2" fill="none"/><path d="M1027,609 L1033,602 L1045,595 L1045,613 Q1090,622 1134,617 L1135,669 L1143,672 L1143,719 L1135,722 L1135,778 Q1080,783 1021.7,761 Z" fill="url(#gSlv2)"/><path d="M1033,602 L1045,595 L1045,613 L1033,616 Z" fill="#3c3c3c"/><path d="M1045,613 Q1090,622 1134,617" stroke="#4a4a4a" stroke-width="1.5" fill="none"/><text x="1049" y="671" text-anchor="middle" font-family="Liberation Serif" font-size="17.5" fill="#0e0e0e" stroke="#0e0e0e" stroke-width="0.7">TOP</text><path d="M1047,634 L1043.5,641 L1046,643 L1046.5,648 M1050,642 L1052,642" stroke="#0e0e0e" stroke-width="1.8" fill="none"/><circle cx="1047" cy="715.7" r="3.2" fill="#0c0c0c" stroke="#555" stroke-width="0.8"/><path d="M1220.3,621.5 Q1198,603 1171,623 L1157.6,628.2 L1161.8,650.5 L1180.5,638.6 L1177,634.5 Q1192,617 1220.3,621.5 Z" fill="#3ea8f2" stroke="#0a2a48" stroke-width="1.2" stroke-linejoin="round"/><polyline points="1284.6,606.0 1272.5,627.6 1294.5,642.9" fill="none" stroke="#4cb0f4" stroke-width="8.5" stroke-linecap="round" stroke-linejoin="round"/><polyline points="1314.8,597.9 1302.2,620.4 1324.7,634.8" fill="none" stroke="#78c4f6" stroke-width="8.5" stroke-linecap="round" stroke-linejoin="round"/><polyline points="1344.9,589.3 1332.8,612.3 1354.8,626.7" fill="none" stroke="#abdaf8" stroke-width="8.5" stroke-linecap="round" stroke-linejoin="round"/><polyline points="988.1,674.1 1010.9,687.0 997.6,711.0" fill="none" stroke="#52b3f5" stroke-width="8.5" stroke-linecap="round" stroke-linejoin="round"/><polyline points="957.3,683.2 981.0,696.5 968.1,720.2" fill="none" stroke="#7cc5f7" stroke-width="8.5" stroke-linecap="round" stroke-linejoin="round"/><polyline points="927.4,692.4 950.7,705.6 937.8,728.5" fill="none" stroke="#abdaf8" stroke-width="8.5" stroke-linecap="round" stroke-linejoin="round"/></g><g clip-path="url(#cpR3)"><line x1="903.0" y1="954.0" x2="1067.0" y2="951.0" stroke="#0c0c0c" stroke-width="5.5" stroke-linecap="round"/><line x1="903.0" y1="954.0" x2="1067.0" y2="951.0" stroke="#242424" stroke-width="4.2" stroke-linecap="round"/><line x1="903.0" y1="952.9" x2="1067.0" y2="949.9" stroke="#5a5a5a" stroke-width="1.1" stroke-linecap="round"/><line x1="981.0" y1="968.7" x2="1067.0" y2="961.0" stroke="#0c0c0c" stroke-width="7.5" stroke-linecap="round"/><line x1="981.0" y1="968.7" x2="1067.0" y2="961.0" stroke="#242424" stroke-width="5.7" stroke-linecap="round"/><line x1="980.9" y1="967.2" x2="1066.9" y2="959.5" stroke="#5a5a5a" stroke-width="1.5" stroke-linecap="round"/><line x1="1017.0" y1="986.0" x2="1067.0" y2="982.4" stroke="#0c0c0c" stroke-width="7.5" stroke-linecap="round"/><line x1="1017.0" y1="986.0" x2="1067.0" y2="982.4" stroke="#242424" stroke-width="5.7" stroke-linecap="round"/><line x1="1016.9" y1="984.5" x2="1066.9" y2="980.9" stroke="#5a5a5a" stroke-width="1.5" stroke-linecap="round"/><line x1="1143.0" y1="955.0" x2="1410.0" y2="930.0" stroke="#0c0c0c" stroke-width="8.0" stroke-linecap="round"/><line x1="1143.0" y1="955.0" x2="1410.0" y2="930.0" stroke="#242424" stroke-width="6.1" stroke-linecap="round"/><line x1="1142.9" y1="953.4" x2="1409.9" y2="928.4" stroke="#5a5a5a" stroke-width="1.6" stroke-linecap="round"/><line x1="1143.0" y1="973.5" x2="1410.0" y2="948.0" stroke="#0c0c0c" stroke-width="9.5" stroke-linecap="round"/><line x1="1143.0" y1="973.5" x2="1410.0" y2="948.0" stroke="#242424" stroke-width="7.2" stroke-linecap="round"/><line x1="1142.8" y1="971.6" x2="1409.8" y2="946.1" stroke="#5a5a5a" stroke-width="1.9" stroke-linecap="round"/><line x1="1143.0" y1="994.0" x2="1410.0" y2="965.0" stroke="#0c0c0c" stroke-width="11.0" stroke-linecap="round"/><line x1="1143.0" y1="994.0" x2="1410.0" y2="965.0" stroke="#242424" stroke-width="8.4" stroke-linecap="round"/><line x1="1142.8" y1="991.8" x2="1409.8" y2="962.8" stroke="#5a5a5a" stroke-width="2.2" stroke-linecap="round"/><polyline points="878.0,966.0 892.7,994.8 916.4,961.2 943.8,1019.7 968.7,987.3 996.1,1044.6 1023.5,1012.2 1049.6,1054.6" fill="none" stroke="#0c0c0c" stroke-width="12" stroke-linejoin="round" stroke-linecap="round"/><polyline points="878.0,966.0 892.7,994.8 916.4,961.2 943.8,1019.7 968.7,987.3 996.1,1044.6 1023.5,1012.2 1049.6,1054.6" fill="none" stroke="#262626" stroke-width="9.2" stroke-linejoin="round" stroke-linecap="round"/><line x1="880.0" y1="945.5" x2="1060.0" y2="1012.5" stroke="#0c0c0c" stroke-width="16.0" stroke-linecap="round"/><line x1="880.0" y1="945.5" x2="1060.0" y2="1012.5" stroke="#242424" stroke-width="12.2" stroke-linecap="round"/><line x1="881.1" y1="942.5" x2="1061.1" y2="1009.5" stroke="#5a5a5a" stroke-width="3.2" stroke-linecap="round"/><line x1="880.0" y1="1002.5" x2="1060.0" y2="1083.5" stroke="#0c0c0c" stroke-width="15.5" stroke-linecap="round"/><line x1="880.0" y1="1002.5" x2="1060.0" y2="1083.5" stroke="#242424" stroke-width="11.8" stroke-linecap="round"/><line x1="881.3" y1="999.7" x2="1061.3" y2="1080.7" stroke="#5a5a5a" stroke-width="3.1" stroke-linecap="round"/><polyline points="1164.6,1063.2 1217.8,1029.6 1282.3,1063.2 1346.7,1014.7 1420.0,1052.0" fill="none" stroke="#0c0c0c" stroke-width="11" stroke-linejoin="round" stroke-linecap="round"/><polyline points="1164.6,1063.2 1217.8,1029.6 1282.3,1063.2 1346.7,1014.7 1420.0,1052.0" fill="none" stroke="#262626" stroke-width="8.2" stroke-linejoin="round" stroke-linecap="round"/><line x1="1142.0" y1="1021.0" x2="1410.0" y2="989.5" stroke="#0c0c0c" stroke-width="17.0" stroke-linecap="round"/><line x1="1142.0" y1="1021.0" x2="1410.0" y2="989.5" stroke="#242424" stroke-width="12.9" stroke-linecap="round"/><line x1="1141.6" y1="1017.6" x2="1409.6" y2="986.1" stroke="#5a5a5a" stroke-width="3.4" stroke-linecap="round"/><line x1="1142.0" y1="1095.0" x2="1410.0" y2="1061.5" stroke="#0c0c0c" stroke-width="16.0" stroke-linecap="round"/><line x1="1142.0" y1="1095.0" x2="1410.0" y2="1061.5" stroke="#242424" stroke-width="12.2" stroke-linecap="round"/><line x1="1141.6" y1="1091.8" x2="1409.6" y2="1058.3" stroke="#5a5a5a" stroke-width="3.2" stroke-linecap="round"/><rect x="1067.6" y="945" width="76" height="60" fill="url(#gPoleR)"/><path d="M1057,1000 Q1057,994 1065,994 L1144,994 Q1151,994 1151.5,1000 L1153,1116 Q1105,1122 1056,1116 Z" fill="url(#gSlv2)" stroke="#141414" stroke-width="1"/><path d="M1060,999 Q1105,992 1149,999 Q1105,1009 1060,999 Z" fill="#1a1a1a" stroke="#555" stroke-width="1"/><path d="M1068,1001 Q1106,996 1144,1001 Q1106,1007 1068,1001 Z" fill="#111"/><text x="1106" y="1071" text-anchor="middle" font-family="Liberation Sans" font-weight="bold" font-style="italic" font-size="30" fill="#333" stroke="#0c0c0c" stroke-width="1.3" textLength="88" lengthAdjust="spacingAndGlyphs">ViPEK</text><rect x="1067" y="1115" width="77" height="22" fill="url(#gPoleR)"/><rect x="1061.5" y="1134" width="90" height="113" rx="4" fill="url(#gSlv2)"/><rect x="1061.5" y="1134" width="90" height="10" rx="3" fill="#1e1e1e"/><path d="M1103,1143 L1103,1184 L1118,1184 L1118,1214 L1104,1214 L1104,1247" stroke="#0a0a0a" stroke-width="1.8" fill="none"/><rect x="1067.6" y="1246" width="77" height="80" fill="url(#gPoleR)"/><path d="M1068,1289 Q1106,1292 1144,1289" stroke="#111" stroke-width="1.6" fill="none"/><rect x="1066" y="1270" width="80" height="58" fill="url(#gFade)"/><polyline points="984.8,1106.0 1003.5,1123.5 1023.3,1106.0" fill="none" stroke="#a6d6f8" stroke-width="9" stroke-linecap="round" stroke-linejoin="round"/><polyline points="984.8,1138.7 1003.5,1156.2 1023.3,1138.7" fill="none" stroke="#82c7f7" stroke-width="9" stroke-linecap="round" stroke-linejoin="round"/><polyline points="984.8,1170.7 1003.5,1188.2 1023.3,1170.7" fill="none" stroke="#5cb6f5" stroke-width="9" stroke-linecap="round" stroke-linejoin="round"/><polyline points="1191.4,1122.7 1210.4,1140.4 1229.8,1122.7" fill="none" stroke="#a6d6f8" stroke-width="9" stroke-linecap="round" stroke-linejoin="round"/><polyline points="1191.4,1154.7 1210.4,1172.4 1229.8,1154.7" fill="none" stroke="#82c7f7" stroke-width="9" stroke-linecap="round" stroke-linejoin="round"/><polyline points="1191.4,1186.2 1210.4,1203.9 1229.8,1186.2" fill="none" stroke="#5cb6f5" stroke-width="9" stroke-linecap="round" stroke-linejoin="round"/></g></svg>
<div class="title" style="left:121.5px;top:32px;font-size:99.5px;letter-spacing:-3.4px;width:auto;transform:scaleX(0.948);transform-origin:0 0">Easy</div>
<div class="title" style="left:357.5px;top:32px;font-size:99.5px;letter-spacing:-3.4px;width:auto;transform:scaleX(1.03);transform-origin:0 0">to</div>
<div class="title" style="left:470px;top:32px;font-size:99.5px;letter-spacing:-3.4px;width:auto;transform:scaleX(1.005);transform-origin:0 0">Assemble</div>
<div class="title" style="left:940.5px;top:32px;font-size:99.5px;letter-spacing:-3.4px;width:auto;transform:scaleX(0.936);transform-origin:0 0">&amp;</div>
<div class="title" style="left:1028.8px;top:32px;font-size:99.5px;letter-spacing:-3.4px;width:auto;transform:scaleX(0.997);transform-origin:0 0">Adjust</div>
<div class="cap" id="c1" style="left:935.5px;top:438.5px;letter-spacing:-0.2px">Arrow pointed upward</div>
<div class="cap" id="c2" style="left:993px;top:857.5px;letter-spacing:-0.49px">Ridge to groove</div>
<div class="cap" id="c3" style="left:921px;top:1322.5px;letter-spacing:0.03px">Note the shelf direction</div>
</body></html>
